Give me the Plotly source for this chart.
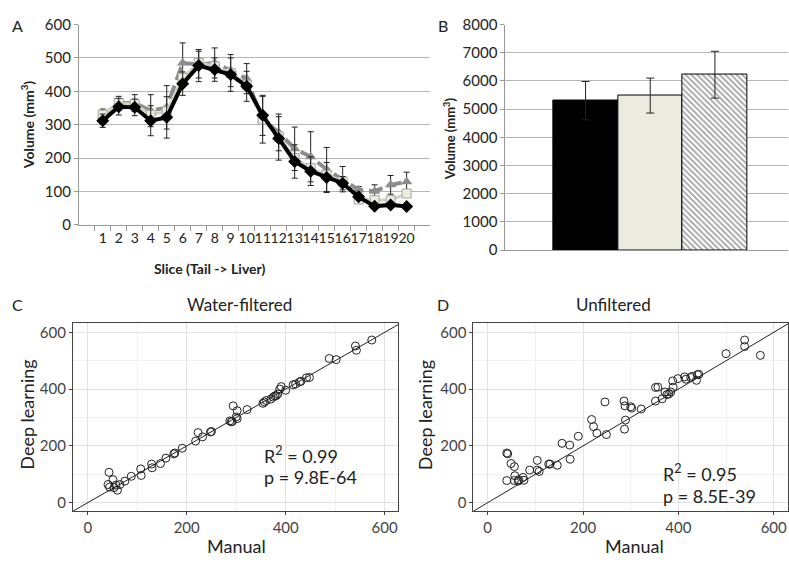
import plotly.graph_objects as go

W, H = 789, 565
FONT = "Lato"

# ---------- Panel A: volume per slice ----------
slices = [str(i) for i in range(1, 21)]
manual_vol = [312, 354, 352, 312, 322, 423, 477, 465, 450, 415, 328, 259, 190, 161, 142, 125, 84, 56, 60, 55]
manual_err = [20, 25, 25, 45, 62, 35, 48, 35, 50, 45, 60, 65, 50, 43, 45, 20, 8, 6, 6, 6]
filtered_vol = [330, 365, 362, 330, 340, 440, 485, 475, 455, 420, 315, 265, 200, 170, 150, 130, 76, 74, 74, 94]
unfiltered_vol = [325, 365, 365, 342, 352, 485, 480, 485, 462, 438, 315, 277, 228, 204, 166, 137, 105, 101, 120, 129]
unfiltered_err = [22, 20, 25, 48, 65, 60, 40, 45, 48, 45, 70, 55, 65, 75, 66, 38, 10, 19, 28, 29]

# ---------- Panel B: total volume ----------
bar_pos = [1, 2, 3]
total_vol = [5300, 5480, 6220]
total_err = [680, 620, 830]

# ---------- Panel C: water-filtered vs manual ----------
c_manual = [41, 43, 44, 51, 53, 57, 60, 65, 75, 88, 107, 108, 129, 130, 147, 158, 174, 176, 191, 218,
            223, 232, 248, 250, 287, 290, 292, 294, 300, 302, 302, 322, 354, 357, 361, 370, 375, 378,
            381, 384, 388, 391, 400, 415, 420, 428, 431, 442, 448, 488, 502, 541, 543, 574]
c_dl = [64, 107, 55, 81, 53, 62, 44, 64, 76, 93, 119, 96, 136, 123, 138, 157, 172, 175, 192, 217,
        247, 232, 249, 251, 288, 285, 286, 341, 302, 324, 296, 328, 350, 355, 360, 365, 372, 376,
        377, 383, 400, 409, 396, 415, 418, 425, 428, 440, 441, 508, 504, 552, 537, 573]

# ---------- Panel D: unfiltered vs manual ----------
d_manual = [40, 42, 49, 56, 40, 57, 56, 65, 74, 76, 64, 88, 104, 104, 108, 128, 131, 146, 156, 172,
            173, 190, 218, 222, 229, 246, 249, 286, 288, 289, 287, 300, 302, 322, 352, 352, 357, 366,
            372, 376, 380, 384, 389, 388, 399, 413, 416, 426, 429, 438, 440, 443, 500, 539, 539, 572]
d_dl = [175, 172, 138, 127, 78, 95, 78, 81, 89, 79, 76, 115, 149, 115, 110, 136, 136, 132, 209, 203,
        153, 234, 293, 268, 245, 355, 240, 358, 341, 291, 259, 338, 333, 330, 358, 406, 407, 366,
        390, 381, 383, 390, 407, 429, 437, 443, 435, 441, 445, 431, 451, 452, 525, 573, 550, 519]

identity = [-40, 700]


def px(x):
    return x / W


def py(y):
    return 1 - y / H


fig = go.Figure()

# Panel A traces
err_style = dict(type="data", thickness=1, width=3, color="#222")
fig.add_trace(go.Scatter(
    x=slices, y=unfiltered_vol, mode="lines+markers", xaxis="x", yaxis="y",
    line=dict(color="#8c8c8c", width=4, dash="14px,6px"),
    marker=dict(symbol="triangle-up", size=10, color="#8c8c8c"),
    error_y=dict(array=unfiltered_err, **err_style), showlegend=False))
fig.add_trace(go.Scatter(
    x=slices, y=filtered_vol, mode="lines+markers", xaxis="x", yaxis="y",
    line=dict(color="#d4d1c2", width=3),
    marker=dict(symbol="square", size=9, color="#ecebe0", line=dict(color="#a8a8a0", width=1)),
    showlegend=False))
fig.add_trace(go.Scatter(
    x=slices, y=manual_vol, mode="lines+markers", xaxis="x", yaxis="y",
    line=dict(color="black", width=4),
    marker=dict(symbol="diamond", size=10, color="black"),
    error_y=dict(array=manual_err, **err_style), showlegend=False))

# Panel B bars
fig.add_trace(go.Bar(
    x=bar_pos, y=total_vol, width=1, xaxis="x2", yaxis="y2",
    marker=dict(
        color=["black", "#ecebe0", "white"],
        line=dict(color="black", width=1),
        pattern=dict(shape=["", "", "\\"], fgcolor="#8a8a8a", bgcolor="white", size=4, solidity=0.45)),
    error_y=dict(type="data", array=total_err, thickness=1, width=4, color="#222"),
    showlegend=False))

# Panels C and D scatter
for xs, ys, xa, ya in [(c_manual, c_dl, "x3", "y3"), (d_manual, d_dl, "x4", "y4")]:
    fig.add_trace(go.Scatter(
        x=identity, y=identity, mode="lines", xaxis=xa, yaxis=ya,
        line=dict(color="#222", width=1), showlegend=False, hoverinfo="skip"))
    fig.add_trace(go.Scatter(
        x=xs, y=ys, mode="markers", xaxis=xa, yaxis=ya,
        marker=dict(symbol="circle-open", size=8, color="#222", line=dict(width=1)),
        showlegend=False))

tick_font = dict(family=FONT, size=15, color="#222")
gg_font = dict(family=FONT, size=15, color="#444")

fig.update_layout(
    width=W, height=H, margin=dict(l=0, r=0, t=0, b=0),
    paper_bgcolor="white", plot_bgcolor="white",
    font=dict(family=FONT, color="#222"),
    bargap=0,
    xaxis=dict(domain=[px(79), px(431)], type="category", tickson="boundaries",
               tickmode="array", tickvals=slices, ticktext=slices, tickangle=0,
               ticks="outside", ticklen=5, tickcolor="#999", showline=True, linecolor="#999",
               showgrid=False, tickfont=dict(family=FONT, size=14, color="#222"), anchor="y"),
    yaxis=dict(domain=[py(222), py(15)], range=[0, 600], dtick=100, showline=True,
               linecolor="#999", ticks="outside", ticklen=4, tickcolor="#999",
               gridcolor="#b5b5b5", zeroline=False, tickfont=tick_font, anchor="x"),
    xaxis2=dict(domain=[px(506), 1.0], range=[-0.24, 4.13], showticklabels=False,
                showgrid=False, zeroline=False, showline=True, linecolor="#999", anchor="y2"),
    yaxis2=dict(domain=[py(248), py(15)], range=[0, 8000], dtick=1000, showline=True,
                linecolor="#999", ticks="outside", ticklen=4, tickcolor="#999",
                gridcolor="#b5b5b5", zeroline=False, tickfont=tick_font, anchor="x2"),
)

for n, dom, rng in [(3, [px(73), px(399)], [-30, 628]), (4, [px(474), 1.0], [-30, 630])]:
    common = dict(showline=True, mirror=True, linecolor="#444", linewidth=1,
                  ticks="outside", ticklen=3, tickcolor="#444", zeroline=False,
                  gridcolor="#e2e2e2", dtick=200, tickfont=gg_font,
                  minor=dict(showgrid=True, gridcolor="#f1f1f1", dtick=100))
    fig.layout[f"xaxis{n}"] = dict(domain=dom, range=rng, anchor=f"y{n}", **common)
    fig.layout[f"yaxis{n}"] = dict(domain=[py(518), py(323)], range=[-31, 634],
                                   anchor=f"x{n}", **common)

ann = []


def label(text, x, y, size, bold=False, angle=0, xanchor="center", color="#222"):
    if bold:
        text = f"<b>{text}</b>"
    ann.append(dict(text=text, x=px(x), y=py(y), xref="paper", yref="paper",
                    xanchor=xanchor, yanchor="middle", showarrow=False, textangle=angle,
                    font=dict(family=FONT, size=size, color=color)))


label("A", 18, 16, 16)
label("B", 444, 16, 16)
label("C", 18, 304, 16)
label("D", 444, 304, 16)
label("Volume (mm<sup>3</sup>)", 27, 118, 14, bold=True, angle=-90)
label("Slice (Tail -> Liver)", 210, 267, 14, bold=True)
label("Volume (mm<sup>3</sup>)", 450, 133, 13, bold=True, angle=-90)
label("Water-filtered", 240, 304, 17)
label("Unfiltered", 614, 304, 17)
label("Manual", 237, 554, 18)
label("Manual", 635, 554, 18)
label("Deep learning", 27, 418, 18, angle=-90)
label("Deep learning", 425, 418, 18, angle=-90)
label("R<sup>2</sup> = 0.99", 262, 460, 18, xanchor="left")
label("p = 9.8E-64", 262, 482, 18, xanchor="left")
label("R<sup>2</sup> = 0.95", 662, 478, 18, xanchor="left")
label("p = 8.5E-39", 662, 502, 18, xanchor="left")
fig.update_layout(annotations=ann)

fig.write_html("out.html")
